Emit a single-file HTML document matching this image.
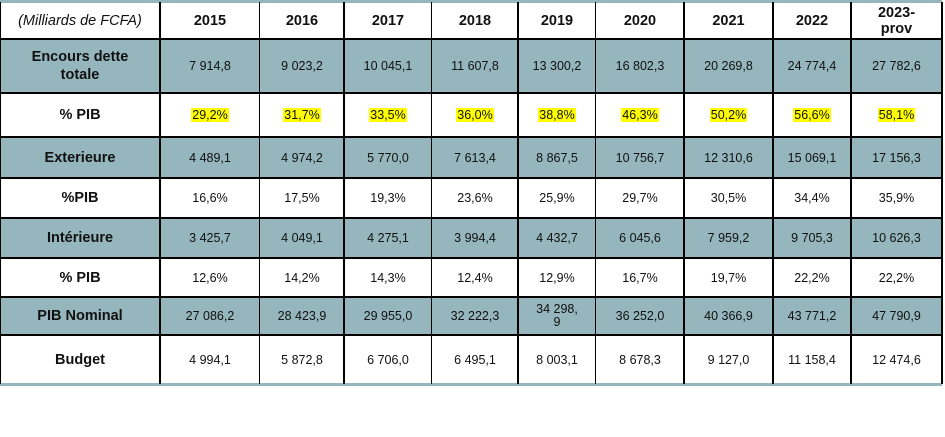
<!DOCTYPE html>
<html><head><meta charset="utf-8"><style>
body{margin:0;width:945px;height:437px;background:#fff;position:relative;font-family:"Liberation Sans",Arial,sans-serif;overflow:hidden}
.r{position:absolute;left:0;width:942px}
.teal{background:#95b6bc}
.h{position:absolute;left:0;width:942px;height:2px;background:#000}
.v{position:absolute;top:2px;height:382px;background:#000}
.c{position:absolute;display:flex;align-items:center;justify-content:center;text-align:center;font-size:12.5px;color:#111}
.l{font-weight:bold;font-size:14.5px;line-height:18px}
.y{font-weight:bold;font-size:14.5px}
.hl{background:#ffff00;padding:0 1px}
</style></head><body>
<div class="r" style="top:0;height:3px;background:#95b6bc"></div>
<div class="r teal" style="top:39px;height:54px"></div>
<div class="r teal" style="top:137px;height:41px"></div>
<div class="r teal" style="top:218px;height:40px"></div>
<div class="r teal" style="top:297px;height:38px"></div>
<div class="r" style="top:383px;height:3px;background:#95b6bc"></div>
<div class="h" style="top:38px;height:2px"></div>
<div class="h" style="top:92px"></div>
<div class="h" style="top:136px"></div>
<div class="h" style="top:177px"></div>
<div class="h" style="top:217px"></div>
<div class="h" style="top:257px"></div>
<div class="h" style="top:296px"></div>
<div class="h" style="top:334px"></div>
<div class="v" style="left:0;width:1px"></div>
<div class="v" style="left:159px;width:2px"></div>
<div class="v" style="left:259px;width:1px"></div>
<div class="v" style="left:343px;width:2px"></div>
<div class="v" style="left:431px;width:1px"></div>
<div class="v" style="left:517px;width:2px"></div>
<div class="v" style="left:595px;width:1px"></div>
<div class="v" style="left:683px;width:2px"></div>
<div class="v" style="left:772px;width:2px"></div>
<div class="v" style="left:850px;width:2px"></div>
<div class="v" style="left:941px;width:2px"></div>
<div id="g"></div>
<script>
const xs=[0,160,260,344,432,518,596,684,773,851,942];
const ys=[2,39,93,137,178,218,258,297,335,384];
const rows=[
["<i style='font-size:14.5px'>(Milliards de FCFA)</i>","2015","2016","2017","2018","2019","2020","2021","2022","2023-<br>prov"],
["Encours dette<br>totale","7 914,8","9 023,2","10 045,1","11 607,8","13 300,2","16 802,3","20 269,8","24 774,4","27 782,6"],
["% PIB","29,2%","31,7%","33,5%","36,0%","38,8%","46,3%","50,2%","56,6%","58,1%"],
["Exterieure","4 489,1","4 974,2","5 770,0","7 613,4","8 867,5","10 756,7","12 310,6","15 069,1","17 156,3"],
["%PIB","16,6%","17,5%","19,3%","23,6%","25,9%","29,7%","30,5%","34,4%","35,9%"],
["Intérieure","3 425,7","4 049,1","4 275,1","3 994,4","4 432,7","6 045,6","7 959,2","9 705,3","10 626,3"],
["% PIB","12,6%","14,2%","14,3%","12,4%","12,9%","16,7%","19,7%","22,2%","22,2%"],
["PIB Nominal","27 086,2","28 423,9","29 955,0","32 222,3","34 298,<br>9","36 252,0","40 366,9","43 771,2","47 790,9"],
["Budget","4 994,1","5 872,8","6 706,0","6 495,1","8 003,1","8 678,3","9 127,0","11 158,4","12 474,6"]];
let h="";
rows.forEach((r,i)=>r.forEach((t,j)=>{
 let cls="c";
 if(j==0&&i>0)cls+=" l"; if(i==0&&j>0)cls+=" y";
 if(i==2&&j>0)t="<span class='hl'>"+t+"</span>";
 if(i==7&&j==5)t="<span style='line-height:13px'>"+t+"</span>";
 h+=`<div class="${cls}" style="left:${xs[j]}px;top:${ys[i]}px;width:${xs[j+1]-xs[j]}px;height:${ys[i+1]-ys[i]}px">${t}</div>`;
}));
document.getElementById("g").innerHTML=h;
</script>
</body></html>
